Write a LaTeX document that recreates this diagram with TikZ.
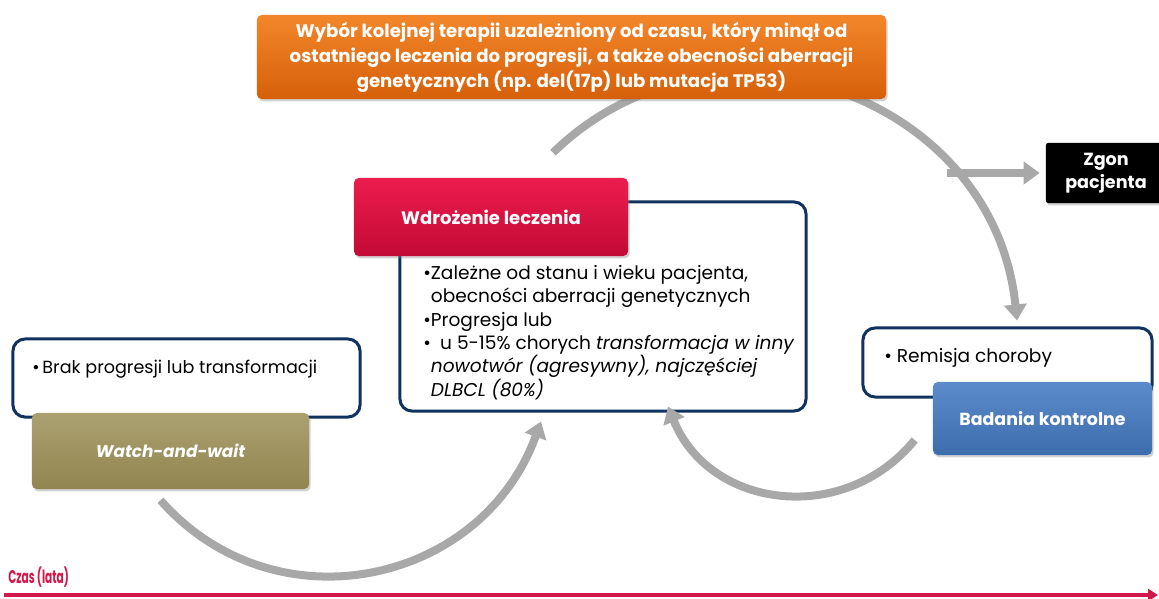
\documentclass[tikz,border=0pt]{standalone}
\usepackage{fontspec}
\setmainfont{Poppins}
\usetikzlibrary{positioning,arrows.meta,shadows}

\definecolor{granat}{HTML}{10325E}
\definecolor{szary}{HTML}{A8A8A8}
\definecolor{pomTop}{HTML}{F3862A}
\definecolor{pomBot}{HTML}{D6600A}
\definecolor{czerTop}{HTML}{EC1C4E}
\definecolor{czerBot}{HTML}{C30A36}
\definecolor{oliTop}{HTML}{ABA070}
\definecolor{oliBot}{HTML}{918650}
\definecolor{nieTop}{HTML}{5C8BCB}
\definecolor{nieBot}{HTML}{3E6DAE}
\definecolor{os}{HTML}{D2184A}

\pgfdeclarelayer{tlo}
\pgfsetlayers{tlo,main}

\begin{document}
\begin{tikzpicture}[x=0.025cm, y=-0.025cm,
    ramka/.style={draw=granat, line width=0.075cm, rounded corners=0.3cm, fill=white},
    etap/.style={rounded corners=0.12cm, text=white, align=center,
        font=\bfseries\fontsize{12.8}{16}\selectfont,
        drop shadow={shadow xshift=0.04cm, shadow yshift=-0.06cm, opacity=0.35}},
    punkty/.style={inner sep=0pt, align=left, anchor=north west,
        font=\fontsize{13.2}{16.6}\selectfont},
    strzalka/.style={draw=szary, line width=0.2cm, -{Triangle[length=0.4cm, width=0.55cm]}}]
    \begin{pgfonlayer}{tlo}
        \fill[white] (0,0) rectangle (1159,599);
    \end{pgfonlayer}
    \useasboundingbox (0,0) rectangle (1159,599);

    \node[etap, top color=pomTop, bottom color=pomBot, minimum width=15.725cm, minimum height=2.1cm,
        font=\bfseries\fontsize{12.9}{17.8}\selectfont] (wybor) at (571.5,57)
        {Wybór kolejnej terapii uzależniony od czasu, który minął od\\
         ostatniego leczenia do progresji, a także obecności aberracji\\
         genetycznych (np. del(17p) lub mutacja TP53)};

    \node[ramka, minimum width=10.15cm, minimum height=5.225cm] (opis) at (603,306.5) {};
    \node[etap, top color=czerTop, bottom color=czerBot, minimum width=6.85cm, minimum height=1.95cm]
        (leczenie) at (491,217) {Wdrożenie leczenia};
    \node[punkty] (opisTxt) at (423,265)
        {\textbullet Zależne od stanu i wieku pacjenta,\\
         \hphantom{\textbullet}obecności aberracji genetycznych\\
         \textbullet Progresja lub\\
         \textbullet\enspace u 5-15\% chorych \textit{transformacja w inny}\\
         \hphantom{\textbullet}\textit{nowotwór (agresywny), najczęściej}\\
         \hphantom{\textbullet}\textit{DLBCL (80\%)}};

    \node[ramka, minimum width=8.675cm, minimum height=1.95cm] (brak) at (186.5,378) {};
    \node[punkty, font=\fontsize{12.5}{16}\selectfont] (brakTxt) at (32,360)
        {\textbullet\,Brak progresji lub transformacji};
    \node[etap, top color=oliTop, bottom color=oliBot, minimum width=6.925cm, minimum height=1.9cm,
        font=\bfseries\itshape\fontsize{12}{16}\selectfont] (ww) at (170.5,451) {Watch-and-wait};

    \node[ramka, minimum width=7.225cm, minimum height=1.725cm] (remisja) at (1007.5,362.5) {};
    \node[punkty] (remisjaTxt) at (884,348) {\textbullet\ Remisja choroby};
    \node[etap, top color=nieTop, bottom color=nieBot, minimum width=5.475cm, minimum height=1.825cm,
        font=\bfseries\fontsize{12.4}{16}\selectfont] (badania) at (1042.5,418.5) {Badania kontrolne};

    \node[etap, fill=black, rounded corners=0.05cm, minimum width=3cm, minimum height=1.5cm,
        font=\bfseries\fontsize{12.5}{16.5}\selectfont] (zgon) at (1106,173) {Zgon\\pacjenta};

    % luki miedzy etapami
    \begin{pgfonlayer}{tlo}
        \draw[strzalka] ([xshift=1.55cm, yshift=0.625cm]leczenie.north)
            .. controls +(162,-158) and +(-23,-226) .. ([xshift=0.2375cm, yshift=0.15cm]remisja.north);
    \end{pgfonlayer}
    \coordinate (rozw) at ([xshift=-2.475cm]zgon.west);
    \draw[strzalka, shorten >=0.15cm] (rozw) -- (zgon.west);
    \draw[strzalka] ([xshift=-0.25cm, yshift=-0.275cm]ww.south)
        .. controls +(115,130) and +(-59,163) .. ([xshift=-1.55cm, yshift=-0.225cm]opis.south);
    \draw[strzalka] ([xshift=-0.45cm, yshift=-0.5375cm]badania.west)
        .. controls +(-70,86) and +(42,103) .. ([xshift=1.625cm, yshift=0.15cm]opis.south);

    % os czasu
    \coordinate (t0) at (4,595);
    \coordinate (t1) at (1158,595);
    \draw[os, line width=0.09cm, -{Triangle[length=0.25cm, width=0.3cm]}] (t0) -- (t1);
    \node[anchor=west, inner sep=0pt, text=os, font=\bfseries\fontsize{13}{14}\selectfont]
        (czas) at (8,577) {\scalebox{0.58}[1]{Czas (lata)}};
\end{tikzpicture}
\end{document}
